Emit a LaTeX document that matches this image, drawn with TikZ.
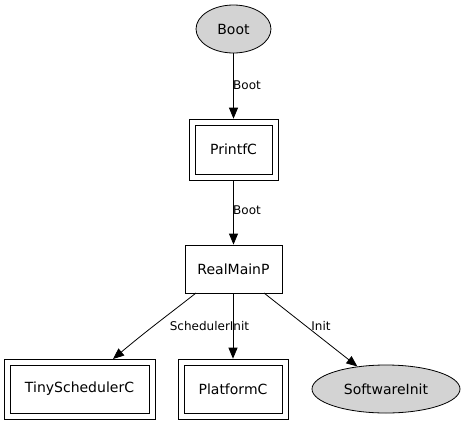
\documentclass[tikz,border=0pt]{standalone}
\usepackage{fontspec}
\setmainfont{DejaVu Sans}
\usetikzlibrary{arrows.meta,shapes.geometric,fit}
\begin{document}
\begin{tikzpicture}[x=1pt,y=-1pt,
  ell/.style={ellipse,draw=black,line width=0.8pt,fill={rgb,255:red,211;green,211;blue,211},inner sep=0pt,font=\fontsize{14}{16}\selectfont},
  boxn/.style={rectangle,draw=black,line width=0.8pt,fill=white,inner sep=0pt,font=\fontsize{14}{16}\selectfont},
  outer/.style={rectangle,draw=black,line width=0.8pt,inner sep=5.5pt},
  edge/.style={-{Triangle[length=11pt,width=9pt]},line width=0.8pt},
  lbl/.style={font=\fontsize{12}{14}\selectfont,inner sep=0pt}]
\useasboundingbox (0,0) rectangle (464,424);
\node[ell,minimum width=75pt,minimum height=48pt] (boot) at (233.5,29) {Boot};
\node[boxn,minimum width=77pt,minimum height=49pt] (printf) at (233.5,149.5) {PrintfC};
\node[outer,fit=(printf)] (printfo) {};
\node[boxn,minimum width=97pt,minimum height=48pt] (real) at (233.5,269) {RealMainP};
\node[boxn,minimum width=139pt,minimum height=48pt] (tiny) at (79.5,389) {TinySchedulerC};
\node[outer,fit=(tiny)] (tinyo) {};
\node[boxn,minimum width=98pt,minimum height=48pt] (plat) at (233,389) {PlatformC};
\node[outer,fit=(plat)] (plato) {};
\node[ell,minimum width=148pt,minimum height=48pt] (soft) at (386,389) {SoftwareInit};
\draw[edge] (boot) -- (printfo);
\node[lbl,anchor=west] (l1) at (233,85) {Boot};
\draw[edge] (printfo) -- (real);
\node[lbl,anchor=west] (l2) at (233,210) {Boot};
\coordinate (a1) at (196,293);
\coordinate (b1) at (113,359);
\draw[edge] (a1) .. controls (172,312) and (150,328) .. (b1);
\node[lbl] (l3) at (209.5,326) {SchedulerInit};
\coordinate (a2) at (233,293);
\draw[edge] (a2) -- (plato);
\coordinate (a3) at (264,293);
\draw[edge] (a3) -- (soft);
\node[lbl] (l4) at (321,326) {Init};
\end{tikzpicture}
\end{document}
